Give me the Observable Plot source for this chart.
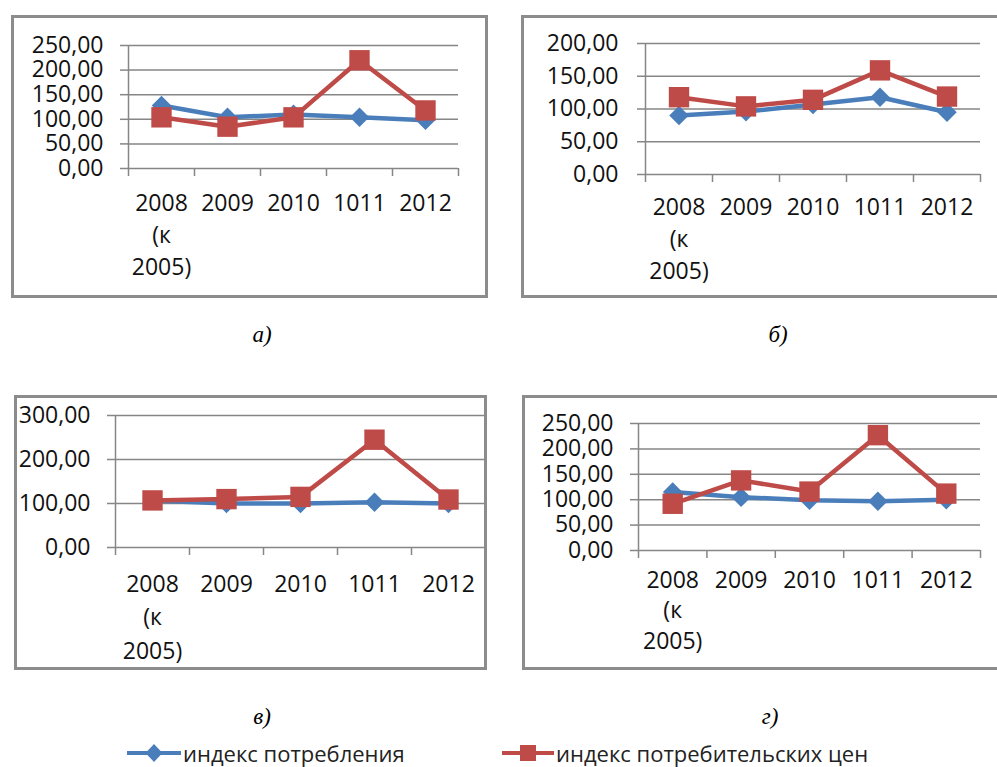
<!DOCTYPE html>
<html><head><meta charset="utf-8">
<script src="https://cdn.jsdelivr.net/npm/d3@7"></script>
<script src="https://cdn.jsdelivr.net/npm/@observablehq/plot@0.6"></script>
<style>
html,body{margin:0;padding:0;background:#fff;}
body{width:997px;height:767px;overflow:hidden;position:relative;font-family:"Open Sans",sans-serif;color:#000;}
.box{position:absolute;border:3px solid #8c8c8c;box-sizing:border-box;z-index:2;pointer-events:none;}
.chart{position:absolute;z-index:1;}
.cap{position:absolute;font-family:"Liberation Serif",serif;font-style:italic;font-size:23px;transform:translate(-50%,-50%);white-space:nowrap;}
.leg{position:absolute;display:flex;align-items:center;font-size:22px;white-space:nowrap;transform:translateY(-50%);color:#222;}
.leg svg{display:block;margin-right:2px;}
</style></head><body>
<script>
// ---- data ----
const years = ["2008\n(к\n2005)", "2009", "2010", "1011", "2012"];
const seriesNames = ["индекс потребления", "индекс потребительских цен"];
const panelLabels = ["а)", "б)", "в)", "г)"];

const consumptionA = [128, 104, 110, 104, 98];
const cpiA = [104, 85, 104, 220, 118];
const ticksA = [0, 50, 100, 150, 200, 250];

const consumptionB = [90, 96, 107, 118, 95];
const cpiB = [118, 104, 114, 159, 119];
const ticksB = [0, 50, 100, 150, 200];

const consumptionC = [107, 100, 100, 103, 100];
const cpiC = [107, 110, 115, 245, 109];
const ticksC = [0, 100, 200, 300];

const consumptionD = [115, 105, 99, 97, 100];
const cpiD = [92, 138, 116, 227, 112];
const ticksD = [0, 50, 100, 150, 200, 250];

// ---- style ----
const BLUE = "#4a7ebb";
const RED = "#be4b48";
const GRID = "#868686";
const diamond = {draw(ctx, size) {const r = Math.sqrt(size) * 0.62625; ctx.moveTo(0, -r); ctx.lineTo(r, 0); ctx.lineTo(0, r); ctx.lineTo(-r, 0); ctx.closePath();}};
const fmt = d => d.toFixed(2).replace(".", ",");

const layouts = [
  {box: [11, 15, 477, 283], svg: [14, 18], w: 471, h: 277, ml: 114, mr: 27, mt: 27, mb: 127, yp: 17, xp: 19, lh: 1.41, cap: [262, 335]},
  {box: [521, 15, 480, 283], svg: [524, 18], w: 470, h: 277, ml: 121, mr: 14, mt: 25, mb: 121, yp: 19, xp: 18, lh: 1.38, cap: [778, 335]},
  {box: [14, 395, 473, 275], svg: [17, 398], w: 470, h: 269, ml: 98, mr: 2, mt: 17, mb: 120, yp: 17, xp: 20, lh: 1.47, cap: [262, 717]},
  {box: [522, 395, 480, 275], svg: [525, 398], w: 470, h: 269, ml: 113, mr: 15, mt: 25, mb: 117, yp: 17, xp: 16, lh: 1.32, cap: [770, 717]}
];
const panels = [
  [consumptionA, cpiA, ticksA],
  [consumptionB, cpiB, ticksB],
  [consumptionC, cpiC, ticksC],
  [consumptionD, cpiD, ticksD]
];

function panel(cons, cpi, ticks, L) {
  const idx = years.map((_, i) => i);
  const bounds = [...idx.map(i => i - 0.5), idx.length - 0.5];
  return Plot.plot({
    width: L.w, height: L.h,
    marginLeft: L.ml, marginRight: L.mr, marginTop: L.mt, marginBottom: L.mb,
    style: {fontFamily: "'Open Sans', sans-serif", fontSize: "23px", color: "#000", background: "transparent", overflow: "visible"},
    x: {domain: [-0.5, years.length - 0.5], axis: null},
    y: {domain: [0, ticks[ticks.length - 1]], axis: null},
    marks: [
      Plot.gridY(ticks, {stroke: GRID, strokeOpacity: 1, strokeWidth: 1.5}),
      Plot.axisY(ticks, {tickSize: 8, tickPadding: L.yp, tickFormat: fmt, stroke: GRID, strokeWidth: 1.5, fill: "#111", fontSize: 23}),
      Plot.ruleX([-0.5], {stroke: GRID, strokeWidth: 1.5}),
      Plot.axisX(bounds, {tickSize: 8, tickFormat: () => "", stroke: GRID, strokeWidth: 1.5}),
      Plot.axisX(idx, {tickSize: 0, tickPadding: L.xp, tickFormat: i => years[i], lineHeight: L.lh, fill: "#111", fontSize: 23}),
      Plot.line(cons, {x: (d, i) => i, y: d => d, stroke: BLUE, strokeWidth: 4.5}),
      Plot.dot(cons, {x: (d, i) => i, y: d => d, symbol: diamond, r: 8.8, fill: BLUE, stroke: "none"}),
      Plot.line(cpi, {x: (d, i) => i, y: d => d, stroke: RED, strokeWidth: 4.5}),
      Plot.dot(cpi, {x: (d, i) => i, y: d => d, symbol: "square", r: 11.5, fill: RED, stroke: "none"})
    ]
  });
}

panels.forEach(([cons, cpi, ticks], k) => {
  const L = layouts[k];
  const box = document.createElement("div");
  box.className = "box";
  Object.assign(box.style, {left: L.box[0] + "px", top: L.box[1] + "px", width: L.box[2] + "px", height: L.box[3] + "px"});
  document.body.appendChild(box);
  const chart = panel(cons, cpi, ticks, L);
  chart.classList.add("chart");
  chart.style.left = L.svg[0] + "px";
  chart.style.top = L.svg[1] + "px";
  document.body.appendChild(chart);
  const cap = document.createElement("div");
  cap.className = "cap";
  cap.textContent = panelLabels[k];
  cap.style.left = L.cap[0] + "px";
  cap.style.top = L.cap[1] + "px";
  document.body.appendChild(cap);
});

// legend
function legendItem(name, color, kind, left, w) {
  const d = document.createElement("div");
  d.className = "leg";
  d.style.left = left + "px";
  d.style.top = "753px";
  const ns = "http://www.w3.org/2000/svg";
  const s = document.createElementNS(ns, "svg");
  s.setAttribute("width", w); s.setAttribute("height", 24);
  const ln = document.createElementNS(ns, "line");
  ln.setAttribute("x1", 0); ln.setAttribute("x2", w); ln.setAttribute("y1", 12); ln.setAttribute("y2", 12);
  ln.setAttribute("stroke", color); ln.setAttribute("stroke-width", 4);
  s.appendChild(ln);
  const m = document.createElementNS(ns, "path");
  const c = w / 2;
  m.setAttribute("d", kind === "diamond" ? `M${c},3L${c + 8.5},12L${c},21L${c - 8.5},12Z` : `M${c - 8},4h16v16h-16Z`);
  m.setAttribute("fill", color);
  s.appendChild(m);
  d.appendChild(s);
  const t = document.createElement("span");
  t.textContent = name;
  d.appendChild(t);
  document.body.appendChild(d);
}
legendItem(seriesNames[0], BLUE, "diamond", 127, 54);
legendItem(seriesNames[1], RED, "square", 502, 52);
</script>
</body></html>
